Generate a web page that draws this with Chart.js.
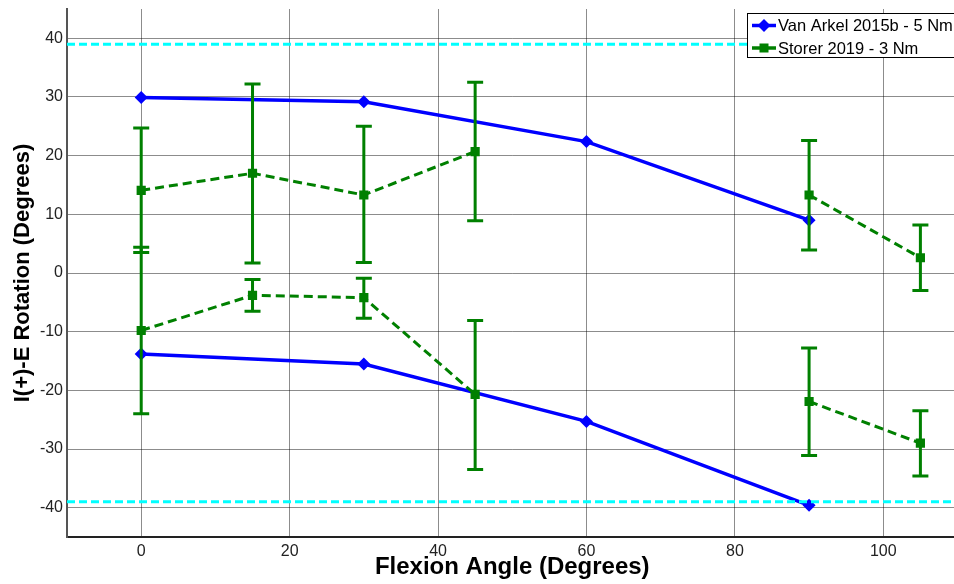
<!DOCTYPE html>
<html><head><meta charset="utf-8">
<script src="https://cdn.jsdelivr.net/npm/chart.js@4/dist/chart.umd.min.js"></script>
<style>html,body{margin:0;padding:0;background:#fff;overflow:hidden;width:954px;height:584px}#wrap{width:964px;height:584px}</style>
</head><body><div id="wrap"><canvas id="c" width="964" height="584"></canvas></div>
<script>
const xTickValues = [0, 20, 40, 60, 80, 100];
const yTickValues = [-40, -30, -20, -10, 0, 10, 20, 30, 40];
const xTitle = 'Flexion Angle (Degrees)';
const yTitle = 'I(+)-E Rotation (Degrees)';
const vanArkelName = 'Van Arkel 2015b - 5 Nm';
const storerName = 'Storer 2019 - 3 Nm';
const vanArkelAngles = [0, 30, 60, 90];
const vanArkelInternal = [29.9, 29.2, 22.4, 9.0];
const vanArkelExternal = [-13.8, -15.5, -25.3, -39.6];
const storerAngles = [0, 15, 30, 45, 60, 90, 105];
const storerInternal = [14.1, 17.0, 13.3, 20.7, null, 13.3, 2.6];
const storerInternalLow = [3.5, 1.7, 1.8, 8.9, null, 3.9, -3.0];
const storerInternalHigh = [24.7, 32.2, 25.0, 32.5, null, 22.6, 8.2];
const storerExternal = [-9.8, -3.8, -4.2, -20.7, null, -21.9, -29.0];
const storerExternalLow = [-24.0, -6.5, -7.7, -33.5, null, -31.1, -34.6];
const storerExternalHigh = [4.4, -1.1, -0.9, -8.1, null, -12.8, -23.5];
const limitAngles = [-10, 110];
const limitValues = [39, -39];

const BLUE = '#0000ff', GREEN = '#008000', CYAN = '#00ffff';
const FONT = '"Liberation Sans", Arial, sans-serif';
const pts = (xs, ys) => xs.map((x, i) => ({x: x, y: ys[i]}));

const datasets = [];
limitValues.forEach(v => datasets.push({
  data: pts(limitAngles, limitAngles.map(() => v)),
  borderColor: CYAN, borderWidth: 3, borderDash: [8, 4], pointRadius: 0, fill: false
}));
[storerInternal, storerExternal].forEach(ys => datasets.push({
  label: storerName, data: pts(storerAngles, ys), spanGaps: false,
  borderColor: GREEN, backgroundColor: GREEN, borderWidth: 3, borderDash: [9, 5],
  pointStyle: 'rect', pointRadius: 6.5, pointBorderWidth: 0, fill: false
}));
[vanArkelInternal, vanArkelExternal].forEach(ys => datasets.push({
  label: vanArkelName, data: pts(vanArkelAngles, ys),
  borderColor: BLUE, backgroundColor: BLUE, borderWidth: 3.5,
  pointStyle: 'rectRot', pointRadius: 6.5, pointBorderWidth: 0, fill: false
}));

const errorBars = [
  {lo: storerInternalLow, hi: storerInternalHigh},
  {lo: storerExternalLow, hi: storerExternalHigh}
];
const legendEntries = [
  {name: vanArkelName, color: BLUE, style: 'rectRot'},
  {name: storerName, color: GREEN, style: 'rect'}
];

const decor = {
  id: 'decor',
  afterDatasetsDraw(chart) {
    const ctx = chart.ctx, xs = chart.scales.x, ys = chart.scales.y;
    ctx.save();
    ctx.strokeStyle = GREEN; ctx.lineWidth = 3; ctx.setLineDash([]);
    errorBars.forEach(eb => {
      storerAngles.forEach((a, i) => {
        if (eb.lo[i] == null) return;
        const px = xs.getPixelForValue(a);
        const y1 = ys.getPixelForValue(eb.lo[i]), y2 = ys.getPixelForValue(eb.hi[i]);
        ctx.beginPath();
        ctx.moveTo(px, y1); ctx.lineTo(px, y2);
        ctx.moveTo(px - 8, y1); ctx.lineTo(px + 8, y1);
        ctx.moveTo(px - 8, y2); ctx.lineTo(px + 8, y2);
        ctx.stroke();
      });
    });
    // legend
    const lx = 747, ly = 13, lw = 220, lh = 44;
    ctx.fillStyle = '#fff';
    ctx.fillRect(lx, ly, lw, lh);
    ctx.strokeStyle = '#000'; ctx.lineWidth = 1;
    ctx.strokeRect(lx + 0.5, ly + 0.5, lw, lh);
    ctx.font = '16.5px ' + FONT; ctx.textBaseline = 'middle'; ctx.textAlign = 'left';
    legendEntries.forEach((e, i) => {
      const cy = ly + 12.5 + i * 22.5;
      ctx.strokeStyle = e.color; ctx.lineWidth = 3.5;
      ctx.beginPath(); ctx.moveTo(752, cy); ctx.lineTo(776, cy); ctx.stroke();
      ctx.fillStyle = e.color;
      if (e.style === 'rect') ctx.fillRect(764 - 4.5, cy - 4.5, 9, 9);
      else { ctx.beginPath(); ctx.moveTo(764, cy - 6.5); ctx.lineTo(770.5, cy); ctx.lineTo(764, cy + 6.5); ctx.lineTo(757.5, cy); ctx.closePath(); ctx.fill(); }
      ctx.fillStyle = '#000';
      ctx.fillText(e.name, 778, cy + 1);
    });
    ctx.restore();
  }
};

new Chart(document.getElementById('c'), {
  type: 'line',
  data: {datasets: datasets},
  plugins: [decor],
  options: {
    responsive: false, animation: false,
    layout: {padding: {left: 0, top: 9, right: 5, bottom: 0}},
    plugins: {legend: {display: false}, tooltip: {enabled: false}},
    scales: {
      x: {
        type: 'linear', min: -10, max: 110,
        afterBuildTicks: s => { s.ticks = xTickValues.map(v => ({value: v})); },
        afterFit: s => { s.height = 47; s.paddingLeft = 0; s.paddingRight = 0; },
        grid: {color: 'rgba(0,0,0,0.45)', lineWidth: 1, drawTicks: false},
        border: {display: true, color: '#222', width: 2},
        ticks: {font: {family: FONT, size: 16}, color: '#222', padding: 5, maxRotation: 0},
        title: {display: true, text: xTitle, font: {family: FONT, size: 24, weight: 'bold'}, color: '#000', padding: {top: 0, bottom: 2}}
      },
      y: {
        type: 'linear', min: -45, max: 45,
        afterBuildTicks: s => { s.ticks = yTickValues.map(v => ({value: v})); },
        afterFit: s => { s.width = 67; s.paddingTop = 0; s.paddingBottom = 0; },
        grid: {color: 'rgba(0,0,0,0.45)', lineWidth: 1, drawTicks: false},
        border: {display: true, color: '#555', width: 2},
        ticks: {font: {family: FONT, size: 16}, color: '#222', padding: 4},
        title: {display: true, text: yTitle, font: {family: FONT, size: 22, weight: 'bold'}, color: '#000', padding: {top: 10, bottom: 0}}
      }
    }
  }
});
</script></body></html>
